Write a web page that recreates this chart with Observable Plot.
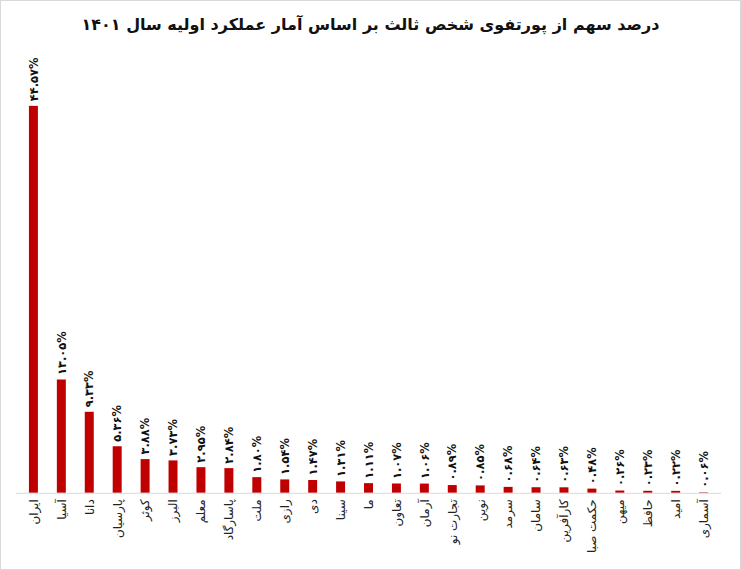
<!DOCTYPE html>
<html><head><meta charset="utf-8">
<script src="https://cdn.jsdelivr.net/npm/d3@7"></script>
<script src="https://cdn.jsdelivr.net/npm/@observablehq/plot@0.6"></script>
<style>
body{margin:0;background:#fff;}
#box{width:741px;height:570px;box-sizing:border-box;border:1px solid #d9d9d9;position:relative;overflow:hidden;background:#fff;}
#title{height:44px;line-height:48px;text-align:center;font-family:"DejaVu Sans",sans-serif;font-weight:bold;font-size:16px;color:#111;direction:rtl;}
#chart{position:relative;left:-1px;}
</style></head>
<body>
<div id="box"><div id="title">درصد سهم از پورتفوی شخص ثالث بر اساس آمار عملکرد اولیه سال ۱۴۰۱</div><div id="chart"></div></div>
<script>
const companies = ["ایران","آسیا","دانا","پارسیان","کوثر","البرز","معلم","پاسارگاد","ملت","رازی","دی","سینا","ما","تعاون","آرمان","تجارت نو","نوین","سرمد","سامان","کارآفرین","حکمت صبا","میهن","حافظ","امید","آسماری"];
const shares = [44.57,13.05,9.33,5.36,3.88,3.73,2.95,2.84,1.80,1.54,1.47,1.31,1.11,1.07,1.06,0.89,0.85,0.68,0.64,0.63,0.48,0.26,0.23,0.22,0.06];

const fa = s => s.replace(/[0-9]/g, d => "۰۱۲۳۴۵۶۷۸۹"[+d]);
const data = companies.map((c, i) => ({company: c, share: shares[i], label: fa(shares[i].toFixed(2)) + "%"}));

const chart = Plot.plot({
  width: 741,
  height: 525,
  marginTop: 61,
  marginBottom: 76,
  marginLeft: 16,
  marginRight: 18,
  style: {fontFamily: "DejaVu Sans, sans-serif", background: "transparent"},
  x: {domain: companies, paddingInner: 0.68, paddingOuter: 0.34, label: null},
  y: {domain: [0, 44.57], axis: null},
  marks: [
    Plot.barY(data, {x: "company", y: "share", fill: "#c00000"}),
    Plot.ruleY([0], {stroke: "#d9d9d9", strokeWidth: 1}),
    Plot.text(data, {x: "company", y: "share", text: "label", rotate: -90, textAnchor: "start", dy: -5, fontSize: 11.5, fontWeight: "bold", fill: "#111"}),
    Plot.axisX({tickSize: 0, tickRotate: -90, tickPadding: 6, fontSize: 12, fill: "#222", label: null})
  ]
});
document.getElementById("chart").appendChild(chart);
</script>
</body></html>
